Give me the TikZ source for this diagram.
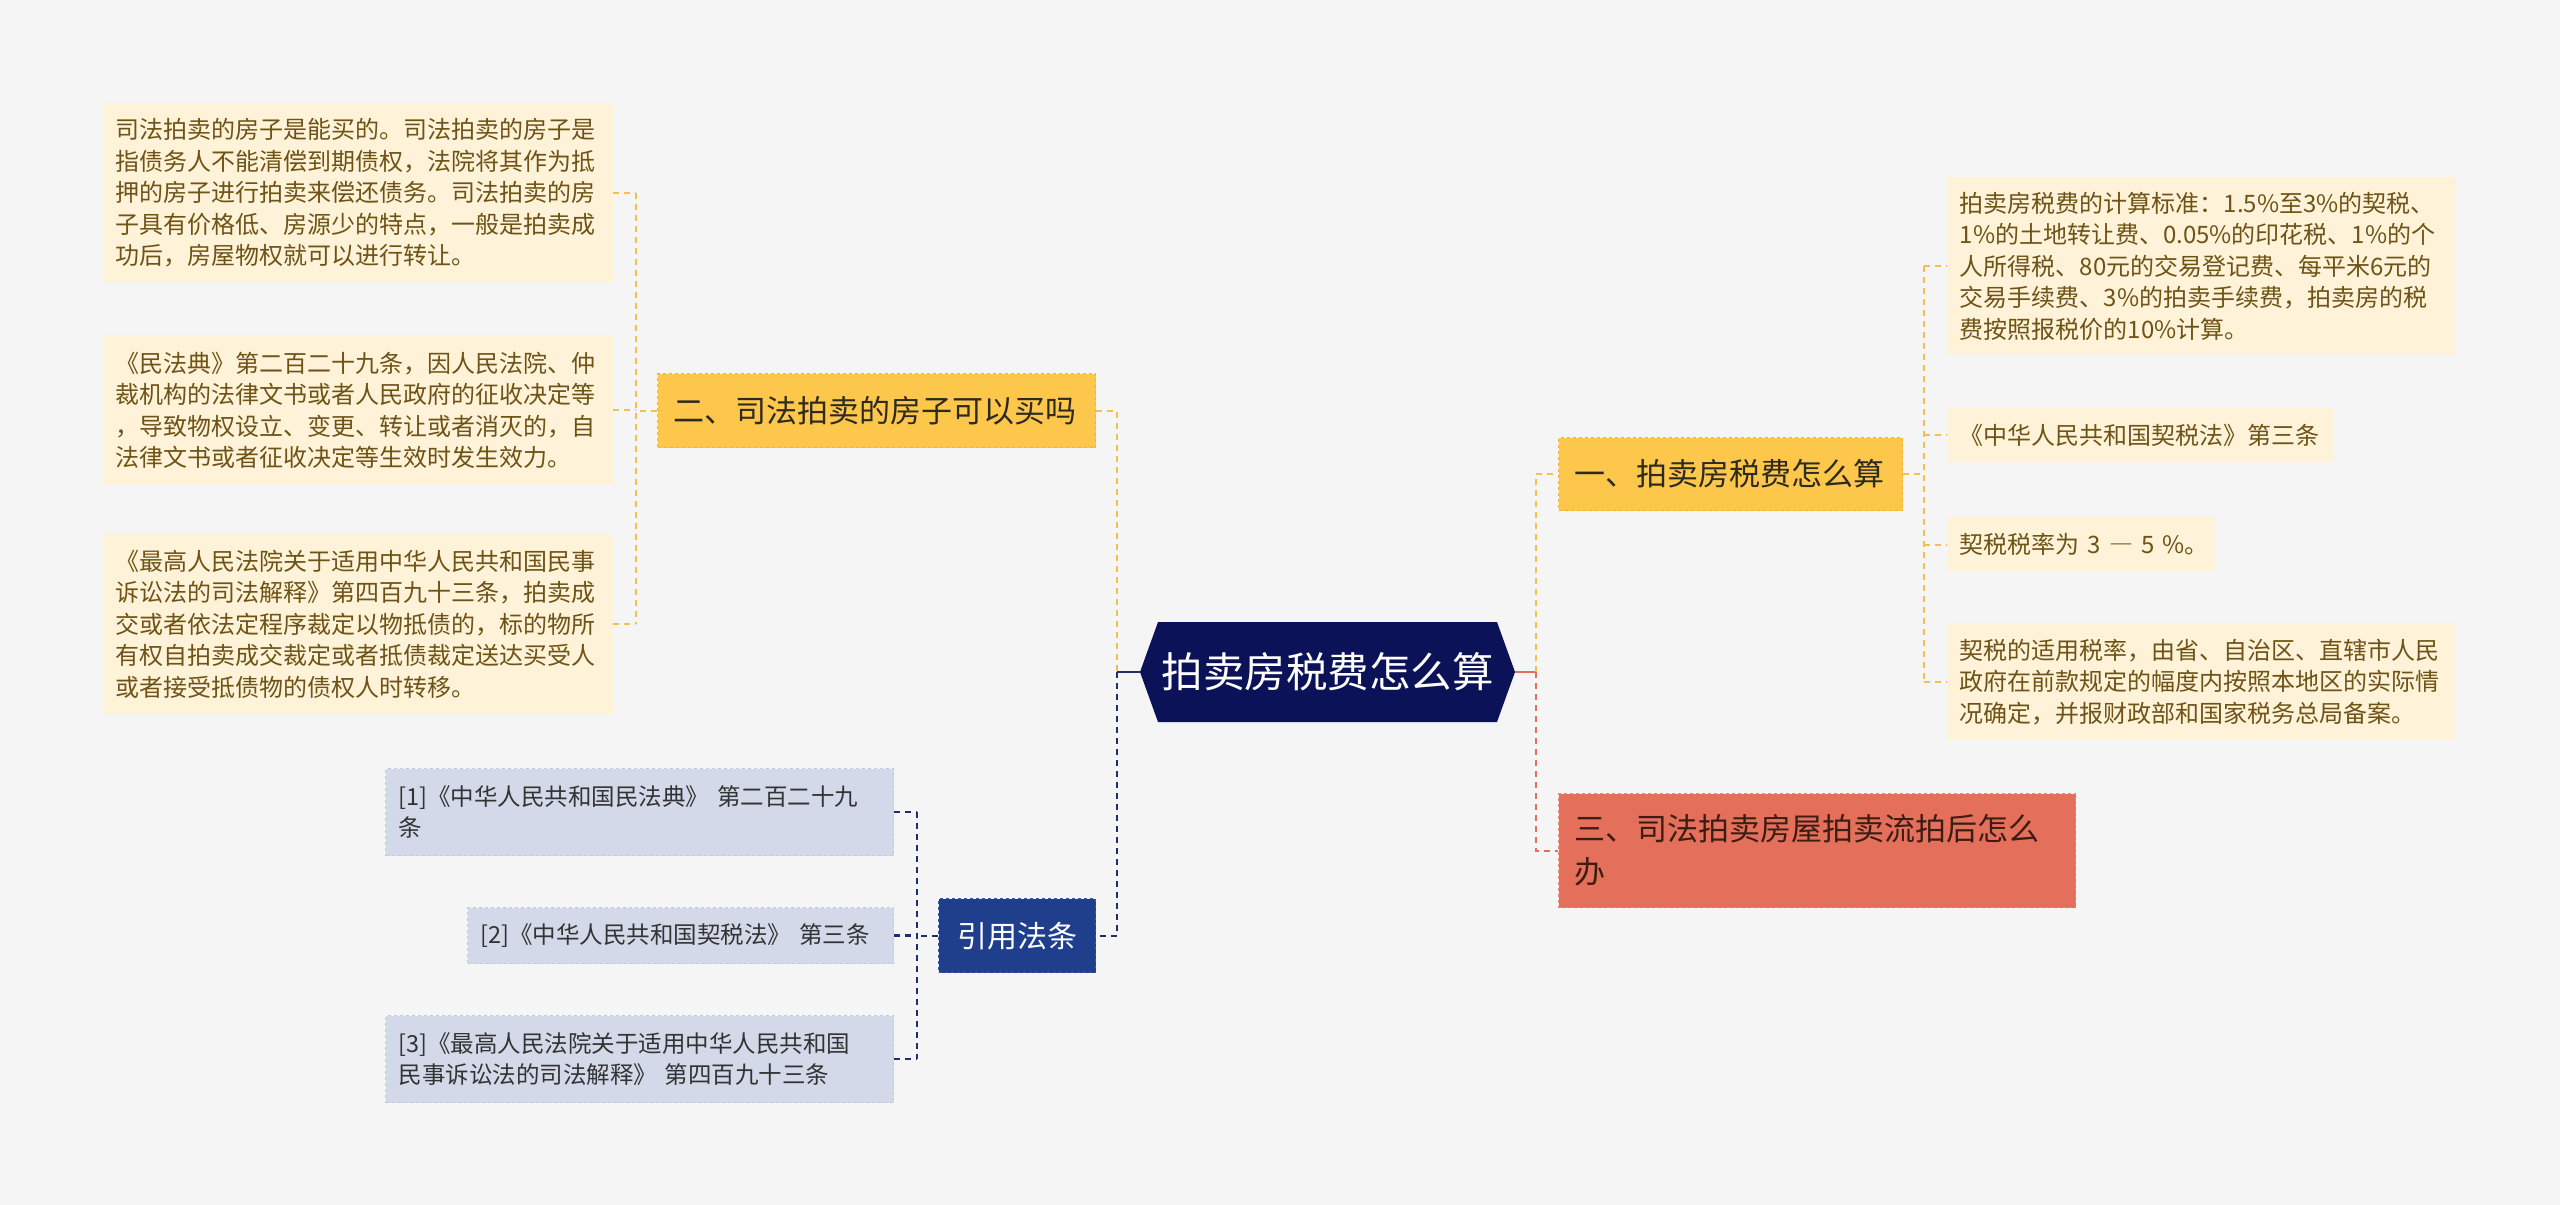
\documentclass[tikz,border=0pt]{standalone}
\usepackage{fontspec}
\setmainfont{Noto Sans CJK SC}
\definecolor{bgc}{HTML}{F5F5F5}
\definecolor{hexc}{HTML}{0C1258}
\definecolor{yelc}{HTML}{FDC74C}
\definecolor{yelb}{HTML}{F0B43A}
\definecolor{redc}{HTML}{E46F5A}
\definecolor{redb}{HTML}{EC8A78}
\definecolor{leafc}{HTML}{FEF3D8}
\definecolor{leaft}{HTML}{6F5316}
\definecolor{refc}{HTML}{D3D9E9}
\definecolor{refb}{HTML}{C3CADF}
\definecolor{citec}{HTML}{1F3F8C}
\definecolor{citeb}{HTML}{3A5AA6}
\definecolor{ylinkc}{HTML}{F3C04E}
\definecolor{rlinkc}{HTML}{E0705C}
\definecolor{nlinkc}{HTML}{1F2F6E}
\definecolor{darkt}{HTML}{2D2A20}
\definecolor{redt}{HTML}{3B1D14}
\begin{document}
\begin{tikzpicture}[x=1pt,y=-1pt,
  leaf/.style={rectangle, fill=leafc, anchor=north west, inner xsep=12.5pt, inner ysep=0pt,
    align=left, font=\fontsize{24}{31.5}\selectfont, text=leaft},
  refleaf/.style={rectangle, fill=refc, draw=refb, dashed, line width=1pt, anchor=north west,
    inner xsep=13pt, inner ysep=0pt, align=left, font=\fontsize{23.5}{31}\selectfont, text=black!80},
  mainbr/.style={rectangle, anchor=north west, inner xsep=16pt, inner ysep=0pt, align=left,
    dashed, line width=1.3pt, font=\fontsize{31}{43}\selectfont},
  ybr/.style={mainbr, fill=yelc, draw=yelb, text=darkt},
  rbr/.style={mainbr, fill=redc, draw=redb, text=redt},
  citebr/.style={rectangle, anchor=north west, fill=citec, draw=citeb, dashed, line width=1.3pt,
    inner sep=0pt, text=white, font=\fontsize{30}{36}\selectfont},
  lk/.style={line width=2.2pt, dash pattern=on 6pt off 5pt},
  ylink/.style={lk, draw=ylinkc},
  rlink/.style={lk, draw=rlinkc},
  nlink/.style={lk, draw=nlinkc},
  ]
\useasboundingbox (0,0) rectangle (2560,1205);
\fill[bgc] (0,0) rectangle (2560,1205);

% central hexagon
\fill[hexc] (1140,672) -- (1158,622) -- (1497,622) -- (1515,672) -- (1497,722) -- (1158,722) -- cycle;
\node[rectangle, minimum width=375pt, minimum height=100pt, inner sep=0pt, text=white,
  font=\fontsize{41.5}{46}\selectfont] (c) at (1327.5,672) {拍卖房税费怎么算};

% right branches
\node[ybr, minimum width=344pt, minimum height=73pt, text width=312pt] (b1) at (1558,437) {一、拍卖房税费怎么算};
\node[rbr, minimum width=517pt, minimum height=114pt, text width=485pt] (b3) at (1558,793) {三、司法拍卖房屋拍卖流拍后怎么\\办};

\node[leaf, minimum width=509pt, minimum height=178pt, text width=484pt] (rl1) at (1947,177) {拍卖房税费的计算标准：1.5\%至3\%的契税、\\1\%的土地转让费、0.05\%的印花税、1\%的个\\人所得税、80元的交易登记费、每平米6元的\\交易手续费、3\%的拍卖手续费，拍卖房的税\\费按照报税价的10\%计算。};
\node[leaf, minimum width=387pt, minimum height=54pt, text width=362pt] (rl2) at (1947,408) {《中华人民共和国契税法》第三条};
\node[leaf, minimum width=269pt, minimum height=55pt, text width=244pt] (rl3) at (1947,517) {\mbox{契税税率为 3 {\addfontfeatures{RawFeature=+fwid}—} 5 \%。}};
\node[leaf, minimum width=509pt, minimum height=117pt, text width=484pt] (rl4) at (1947,623) {契税的适用税率，由省、自治区、直辖市人民\\政府在前款规定的幅度内按照本地区的实际情\\况确定，并报财政部和国家税务总局备案。};

% left branches
\node[ybr, minimum width=438pt, minimum height=74pt, text width=406pt] (b2) at (657,373) {二、司法拍卖的房子可以买吗};
\node[leaf, minimum width=510pt, minimum height=179pt, text width=485pt] (ll1) at (103,103) {司法拍卖的房子是能买的。司法拍卖的房子是\\指债务人不能清偿到期债权，法院将其作为抵\\押的房子进行拍卖来偿还债务。司法拍卖的房\\子具有价格低、房源少的特点，一般是拍卖成\\功后，房屋物权就可以进行转让。};
\node[leaf, minimum width=510pt, minimum height=150pt, text width=485pt] (ll2) at (103,335) {《民法典》第二百二十九条，因人民法院、仲\\裁机构的法律文书或者人民政府的征收决定等\\，导致物权设立、变更、转让或者消灭的，自\\法律文书或者征收决定等生效时发生效力。};
\node[leaf, minimum width=510pt, minimum height=180pt, text width=485pt] (ll3) at (103,534) {《最高人民法院关于适用中华人民共和国民事\\诉讼法的司法解释》第四百九十三条，拍卖成\\交或者依法定程序裁定以物抵债的，标的物所\\有权自拍卖成交裁定或者抵债裁定送达买受人\\或者接受抵债物的债权人时转移。};

% citations
\node[citebr, minimum width=157pt, minimum height=74pt] (cite) at (938,898) {引用法条};
\node[refleaf, minimum width=508pt, minimum height=87pt, text width=482pt] (ref1) at (385,768) {[1]《中华人民共和国民法典》 第二百二十九\\条};
\node[refleaf, minimum width=426pt, minimum height=56pt, text width=400pt] (ref2) at (467,907) {[2]《中华人民共和国契税法》 第三条};
\node[refleaf, minimum width=508pt, minimum height=87pt, text width=482pt] (ref3) at (385,1015) {[3]《最高人民法院关于适用中华人民共和国\\民事诉讼法的司法解释》 第四百九十三条};

% connectors right
\coordinate (rj) at (1536,672);
\draw[line width=2.2pt, rlinkc] (c.east) -- (rj);
\draw[ylink] (rj) |- (b1.west);
\draw[rlink] (rj) |- (b3.west);
\coordinate (rv) at (1924,474);
\draw[ylink] (b1.east) -- (rv |- b1.east);
\draw[ylink] (rv |- rl1.west) -- (rv |- rl4.west);
\foreach \n in {rl1,rl2,rl3,rl4} \draw[ylink] (rv |- \n.west) -- (\n.west);

% connectors left
\coordinate (lv) at (636,410);
\draw[ylink] (b2.west) -- (lv |- b2.west);
\draw[ylink] (lv |- ll1.east) -- (lv |- ll3.east);
\foreach \n in {ll1,ll2,ll3} \draw[ylink] (\n.east) -- (lv |- \n.east);
\coordinate (lj) at (1117,672);
\draw[ylink] (b2.east) -| (lj);
\draw[line width=2.2pt, nlinkc] (lj) -- (c.west);
\draw[nlink] (lj) |- (cite.east);
\coordinate (cv) at (917,935);
\draw[nlink] (cite.west) -- (cv |- cite.west);
\draw[nlink] (cv |- ref1.east) -- (cv |- ref3.east);
\foreach \n in {ref1,ref2,ref3} \draw[nlink] (\n.east) -- (cv |- \n.east);
\end{tikzpicture}
\end{document}
